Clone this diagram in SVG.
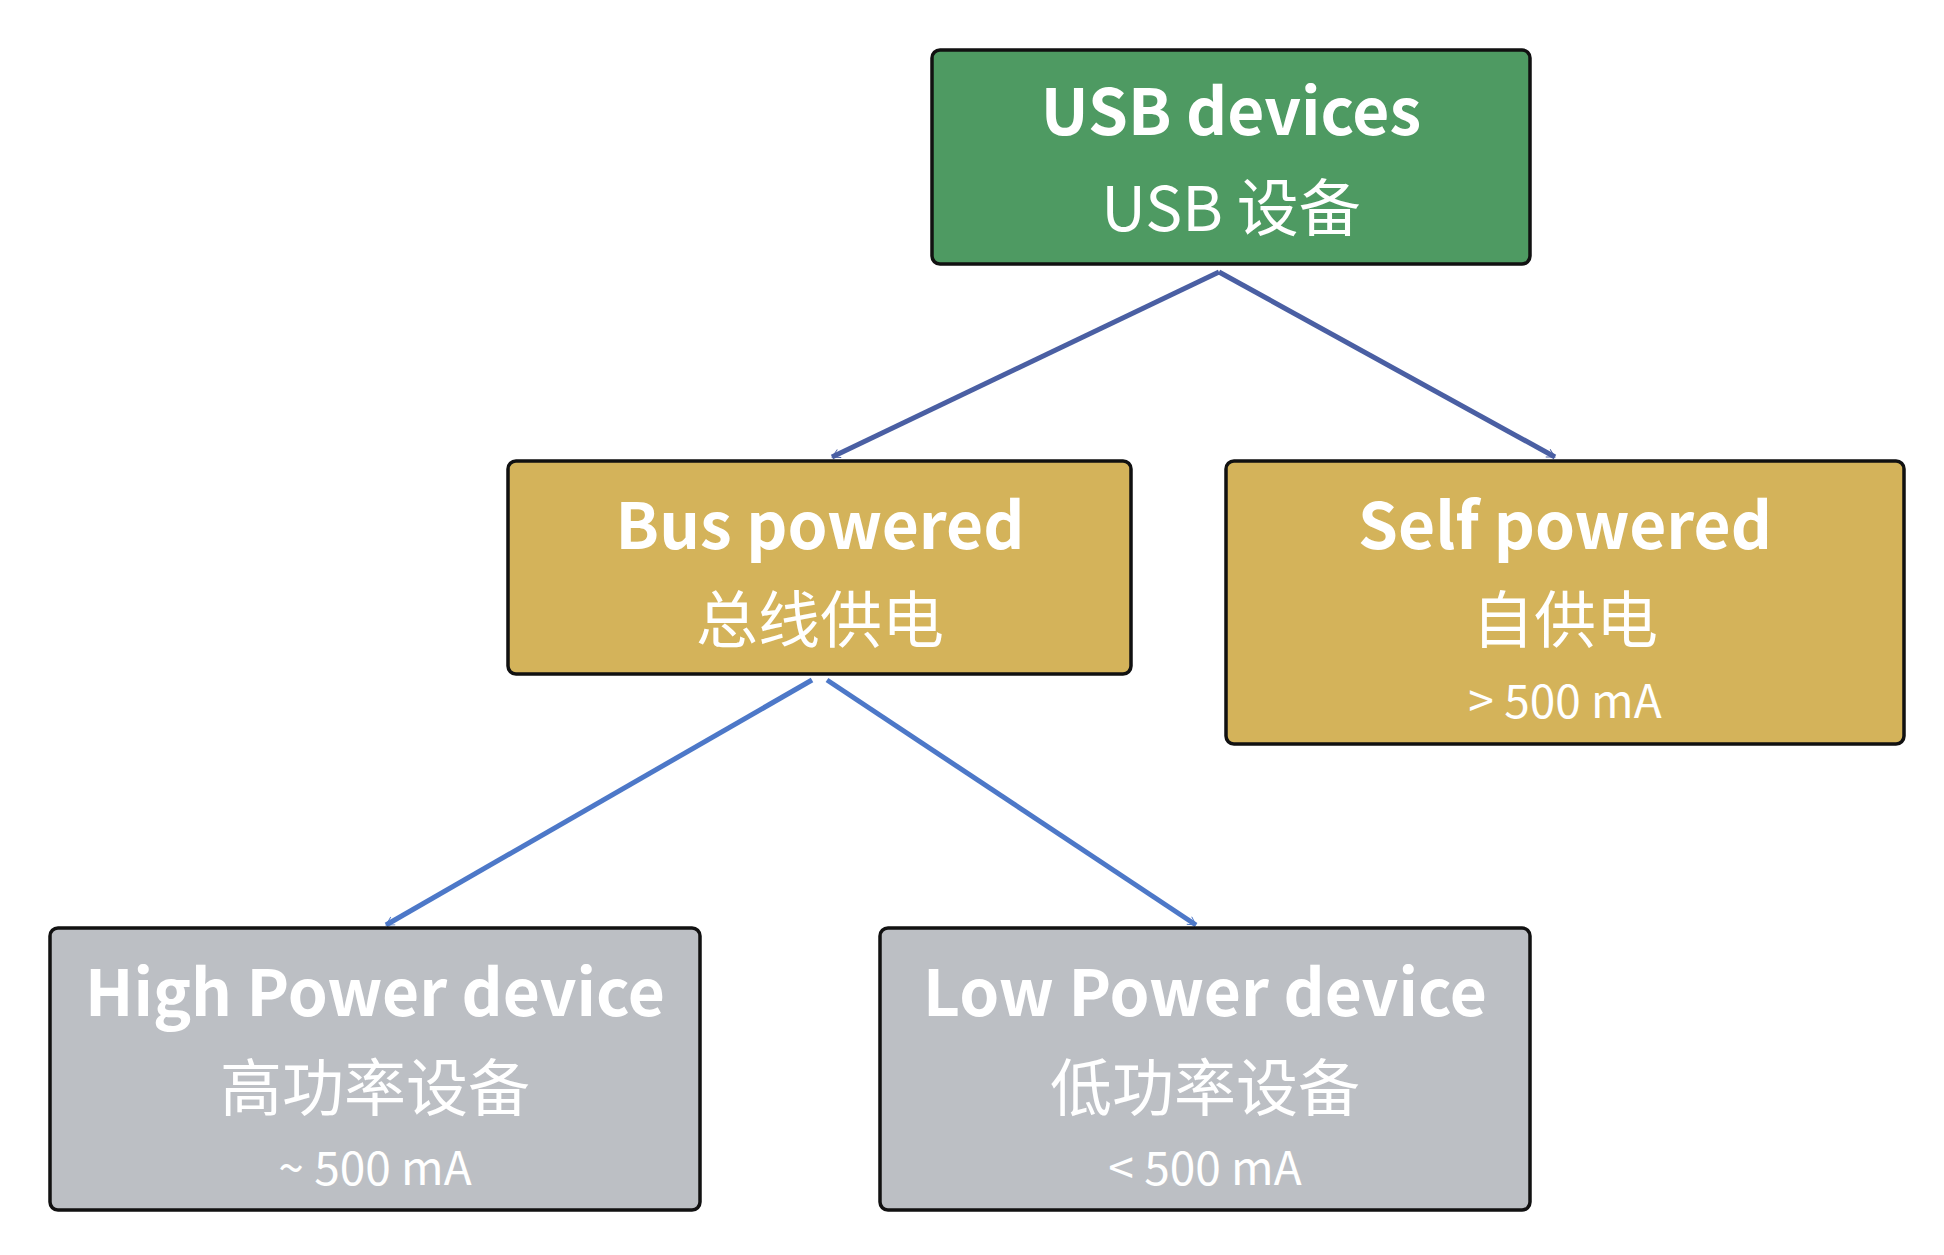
<svg xmlns="http://www.w3.org/2000/svg" width="1944" height="1255" viewBox="0 0 1944 1255">
<style>
.box{stroke:#111;stroke-width:3.5}
.t{font-family:"Noto Sans CJK SC","Noto Sans",sans-serif;fill:#fff;text-anchor:middle}
.b{font-weight:bold;font-size:64px}
.c{font-size:62px}
.s{font-size:46px}
.e1{stroke:#4a5fa3;stroke-width:5;fill:none}
.e2{stroke:#4d78c8;stroke-width:5;fill:none}
</style>
<defs>
<marker id="a1" viewBox="0 0 20 20" refX="18" refY="10" markerWidth="9" markerHeight="9" markerUnits="userSpaceOnUse" orient="auto" style="overflow:visible"><path d="M0,0 L18,10 L0,20" fill="none" stroke="#4a5fa3" stroke-width="2"/></marker>
<marker id="a2" viewBox="0 0 20 20" refX="18" refY="10" markerWidth="9" markerHeight="9" markerUnits="userSpaceOnUse" orient="auto" style="overflow:visible"><path d="M0,0 L18,10 L0,20" fill="none" stroke="#4d78c8" stroke-width="2"/></marker>
</defs>
<rect width="1944" height="1255" fill="#fff"/>
<g id="connectors">
<path class="e1" d="M1219,272 L832,457" marker-end="url(#a1)"/>
<path class="e1" d="M1219,272 L1555,457" marker-end="url(#a1)"/>
<path class="e2" d="M812,680 L386,925" marker-end="url(#a2)"/>
<path class="e2" d="M827,680 L1196,925" marker-end="url(#a2)"/>
</g>
<g id="usb"><rect class="box" x="932" y="50" width="598" height="214" rx="8" fill="#4e9a62"/>
<text class="t b" x="1231" y="135">USB devices</text><text class="t c" x="1231" y="231">USB 设备</text></g>
<g id="bus"><rect class="box" x="508" y="461" width="623" height="213" rx="8" fill="#d4b35a"/>
<text class="t b" x="820" y="549">Bus powered</text><text class="t c" x="820" y="643">总线供电</text></g>
<g id="self"><rect class="box" x="1226" y="461" width="678" height="283" rx="8" fill="#d4b35a"/>
<text class="t b" x="1565" y="549">Self powered</text><text class="t c" x="1565" y="643">自供电</text><text class="t s" x="1565" y="718">&gt; 500 mA</text></g>
<g id="high"><rect class="box" x="50" y="928" width="650" height="282" rx="8" fill="#bcbfc4"/>
<text class="t b" x="375" y="1016">High Power device</text><text class="t c" x="375" y="1111">高功率设备</text><text class="t s" x="375" y="1185">~ 500 mA</text></g>
<g id="low"><rect class="box" x="880" y="928" width="650" height="282" rx="8" fill="#bcbfc4"/>
<text class="t b" x="1205" y="1016">Low Power device</text><text class="t c" x="1205" y="1111">低功率设备</text><text class="t s" x="1205" y="1185">&lt; 500 mA</text></g>
</svg>
